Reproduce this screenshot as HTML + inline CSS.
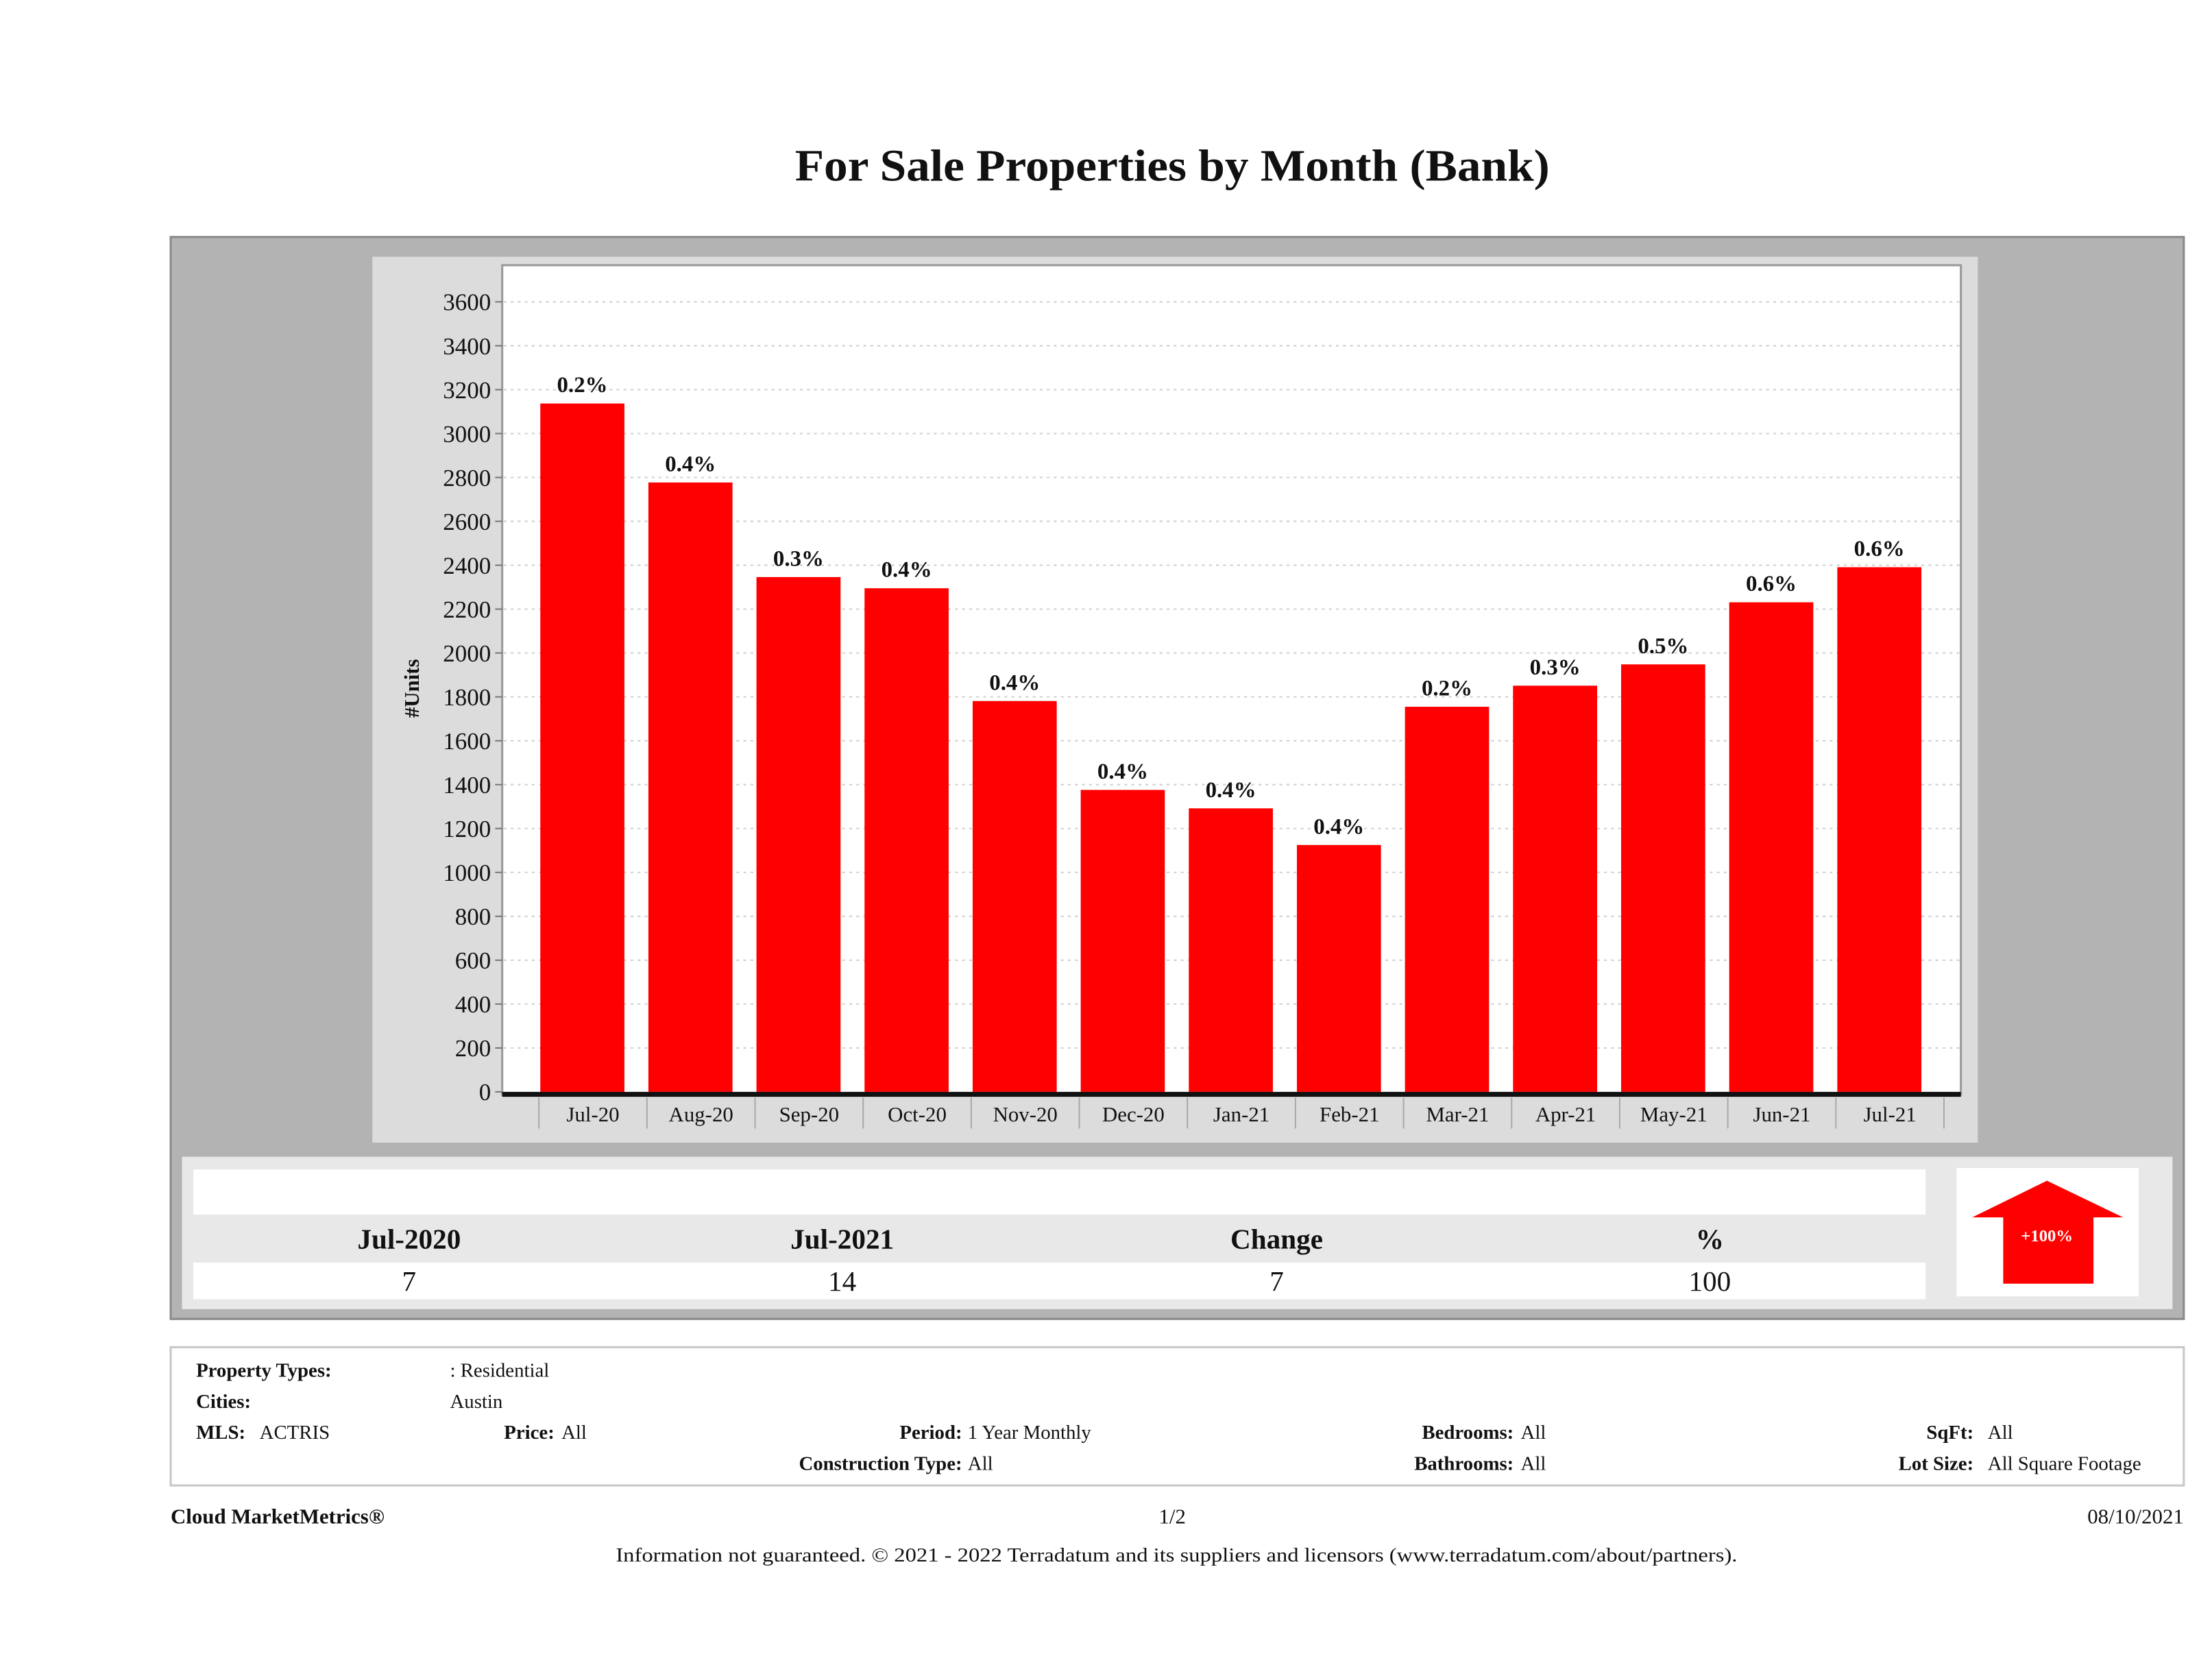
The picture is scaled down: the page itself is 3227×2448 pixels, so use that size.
<!DOCTYPE html>
<html><head><meta charset="utf-8"><style>
html,body{margin:0;padding:0;background:#fff}
svg{display:block}
text{font-family:"Liberation Serif",serif;fill:#111}
.b{font-weight:bold}
</style></head><body>
<svg id="page" width="3227" height="2448" viewBox="0 0 1568 1189.5" preserveAspectRatio="none" xmlns="http://www.w3.org/2000/svg">
<text x="831" y="128" text-anchor="middle" class="b" font-size="32" textLength="535" lengthAdjust="spacingAndGlyphs">For Sale Properties by Month (Bank)</text>
<rect x="121" y="168" width="1427" height="767" fill="#b3b3b3" stroke="#8a8a8a" stroke-width="1.5"/>
<rect x="264" y="182" width="1138" height="628" fill="#dcdcdc"/>
<rect x="356" y="188" width="1034" height="588" fill="#fff" stroke="#9a9a9a" stroke-width="1.5"/>
<g id="grid"></g>
<g id="bars"></g>
<g id="yaxis"></g>
<g id="xaxis"></g>
<text class="b" font-size="15" transform="translate(297,488) rotate(-90)" text-anchor="middle">#Units</text>

<rect x="129" y="820" width="1411" height="108" fill="#e8e8e8"/>
<rect x="137" y="829" width="1228" height="32" fill="#fff"/>
<rect x="137" y="895" width="1228" height="26" fill="#fff"/>
<text class="b" font-size="20" x="290" y="885" text-anchor="middle">Jul-2020</text>
<text class="b" font-size="20" x="597" y="885" text-anchor="middle">Jul-2021</text>
<text class="b" font-size="20" x="905" y="885" text-anchor="middle">Change</text>
<text class="b" font-size="20" x="1212" y="885" text-anchor="middle">%</text>
<text font-size="20" x="290" y="915" text-anchor="middle">7</text>
<text font-size="20" x="597" y="915" text-anchor="middle">14</text>
<text font-size="20" x="905" y="915" text-anchor="middle">7</text>
<text font-size="20" x="1212" y="915" text-anchor="middle">100</text>
<rect x="1387" y="828" width="129" height="91" fill="#fff"/>
<polygon points="1451,837 1505,863 1484,863 1484,910 1420,910 1420,863 1398,863" fill="#f00"/>
<text class="b" font-size="12" x="1451" y="880" text-anchor="middle" style="fill:#fff">+100%</text>

<rect x="121" y="955" width="1427" height="98" fill="#fff" stroke="#c8c8c8" stroke-width="1.5"/>
<g font-size="14">
<text class="b" x="139" y="976">Property Types:</text>
<text x="319" y="976">: Residential</text>
<text class="b" x="139" y="998">Cities:</text>
<text x="319" y="998">Austin</text>
<text class="b" x="139" y="1020">MLS:</text>
<text x="184" y="1020">ACTRIS</text>
<text class="b" x="393" y="1020" text-anchor="end">Price:</text>
<text x="398" y="1020">All</text>
<text class="b" x="682" y="1020" text-anchor="end">Period:</text>
<text x="686" y="1020">1 Year Monthly</text>
<text class="b" x="682" y="1042" text-anchor="end">Construction Type:</text>
<text x="686" y="1042">All</text>
<text class="b" x="1073" y="1020" text-anchor="end">Bedrooms:</text>
<text x="1078" y="1020">All</text>
<text class="b" x="1073" y="1042" text-anchor="end">Bathrooms:</text>
<text x="1078" y="1042">All</text>
<text class="b" x="1399" y="1020" text-anchor="end">SqFt:</text>
<text x="1409" y="1020">All</text>
<text class="b" x="1399" y="1042" text-anchor="end">Lot Size:</text>
<text x="1409" y="1042">All Square Footage</text>
</g>
<text class="b" font-size="15" x="121" y="1080">Cloud MarketMetrics®</text>
<text font-size="15" x="831" y="1080" text-anchor="middle">1/2</text>
<text font-size="15" x="1548" y="1080" text-anchor="end">08/10/2021</text>
<text font-size="14" x="834" y="1107" text-anchor="middle" textLength="795" lengthAdjust="spacingAndGlyphs">Information not guaranteed. © 2021 - 2022 Terradatum and its suppliers and licensors (www.terradatum.com/about/partners).</text>
</svg>
<script>
const categories = ["Jul-20","Aug-20","Sep-20","Oct-20","Nov-20","Dec-20","Jan-21","Feb-21","Mar-21","Apr-21","May-21","Jun-21","Jul-21"];
const units = [3137,2777,2346,2295,1781,1376,1292,1125,1755,1851,1948,2231,2391];
const pctLabels = ["0.2%","0.4%","0.3%","0.4%","0.4%","0.4%","0.4%","0.4%","0.2%","0.3%","0.5%","0.6%","0.6%"];
const yTicks = [0,200,400,600,800,1000,1200,1400,1600,1800,2000,2200,2400,2600,2800,3000,3200,3400,3600];

const NS = "http://www.w3.org/2000/svg";
const y0 = 774, yTop = 214, yMax = 3600;
const bandStart = 382, bandEnd = 1378;
const bw = (bandEnd - bandStart) / categories.length;
function yScale(v){ return y0 - (v / yMax) * (y0 - yTop); }
function xBand(i){ return bandStart + i * bw; }
function mk(tag, attrs, parent){
  const e = document.createElementNS(NS, tag);
  for (const k in attrs) e.setAttribute(k, attrs[k]);
  parent.appendChild(e); return e;
}
const grid = document.getElementById('grid'), bars = document.getElementById('bars');
const yaxis = document.getElementById('yaxis'), xaxis = document.getElementById('xaxis');

yTicks.forEach(t => {
  const y = yScale(t);
  if (t > 0) {
    const g = mk('line', {x1:357, x2:1389, y1:y, y2:y, stroke:'#cfcfcf', 'stroke-width':1, 'stroke-dasharray':'2,3'}, grid);
    
    
  }
  const tk = mk('line', {x1:351, x2:356, y1:y, y2:y, stroke:'#777', 'stroke-width':1}, yaxis);
  
  
  const lb = mk('text', {x:348, y:y+6, 'text-anchor':'end', 'font-size':17}, yaxis);
  lb.textContent = t;
  
  
});

units.forEach((v, i) => {
  const x = xBand(i) + 1, w = bw - 17, y = yScale(v);
  const r = mk('rect', {x:x, y:y, width:w, height:y0 - y, fill:'#ff0000'}, bars);
  
  
  const t = mk('text', {x:x + w/2, y:y - 8, 'text-anchor':'middle', 'font-size':16, 'class':'b'}, bars);
  t.textContent = pctLabels[i];
  
  
});

const ax = mk('rect', {x:356, y:y0, width:1034, height:3.5, fill:'#111'}, xaxis);


for (let i = 0; i <= categories.length; i++) {
  const x = xBand(i);
  const tk = mk('line', {x1:x, x2:x, y1:778, y2:800, stroke:'#aaa', 'stroke-width':1}, xaxis);
  
  
}
categories.forEach((c, i) => {
  const t = mk('text', {x:xBand(i) + bw/2, y:795, 'text-anchor':'middle', 'font-size':15}, xaxis);
  t.textContent = c;
  
  
});
</script>
</body></html>
